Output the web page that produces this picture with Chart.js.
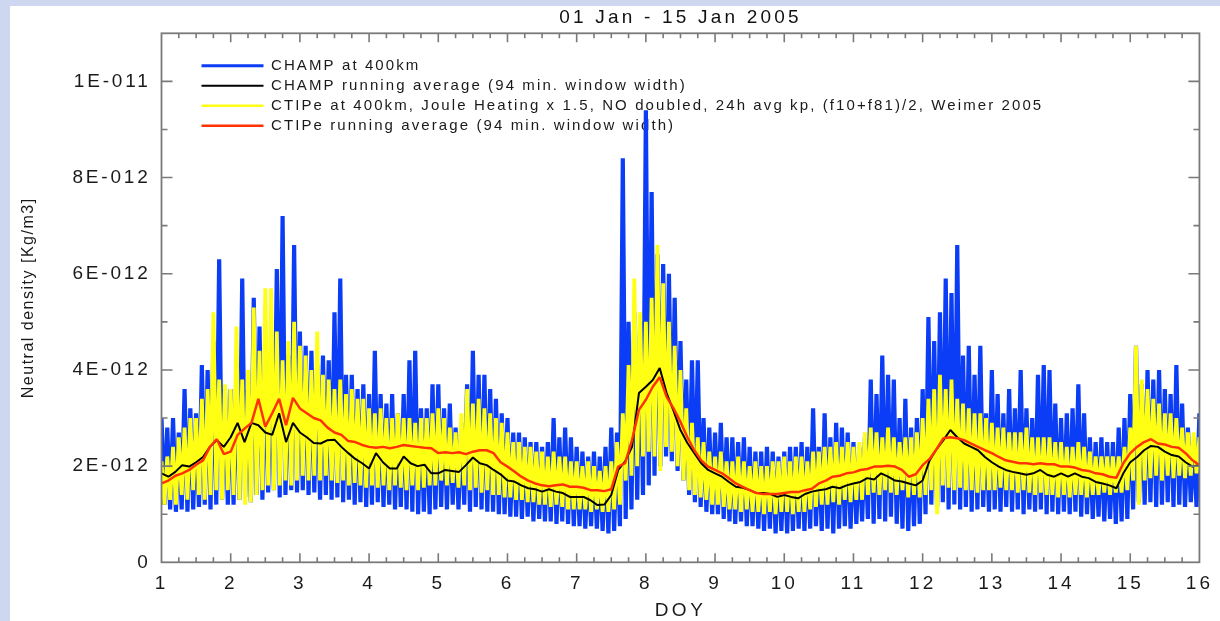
<!DOCTYPE html>
<html><head><meta charset="utf-8">
<script src="https://cdn.jsdelivr.net/npm/chart.js@4.4.1/dist/chart.umd.min.js"></script>
<style>
html,body{margin:0;padding:0;width:1220px;height:621px;overflow:hidden;background:#cdd8f0;}
#wrap{position:absolute;left:10px;top:6px;width:1210px;height:615px;background:#fff;}
canvas{display:block;}
</style></head><body>
<div id="wrap"><canvas id="c" width="1210" height="615"></canvas></div>
<script>
// ---------- data (density values in units of 1E-013 kg/m3) ----------
const UNIT = 1e-13;
const DAY_START = 1;
const DAY_END = 16;
const RAW_PER_DAY = 12;      // envelope samples per day (every 2 h)
const AVG_STEP = 0.1;        // running-average samples (days)

const xTickLabels = ['1','2','3','4','5','6','7','8','9','10','11','12','13','14','15','16'];
const yTickLabels = ['0','2E-012','4E-012','6E-012','8E-012','1E-011'];

const seriesNames = [
  'CHAMP at 400km',
  'CHAMP running average (94 min. window width)',
  'CTIPe at 400km, Joule Heating x 1.5, NO doubled, 24h avg kp, (f10+f81)/2, Weimer 2005',
  'CTIPe running average (94 min. window width)'
];

// CHAMP at 400 km: orbit maxima / minima
const champHi = [
 30,28,30,27,36,32,31,41,40,46,63,36,
 36,40,59,36,55,49,44,43,61,72,43,66,
 48,45,44,41,43,42,52,59,39,39,36,37,
 35,44,35,33,35,31,35,42,44,32,32,37,
 37,32,33,28,29,37,44,39,39,36,34,31,
 30,27,27,26,25,25,24,25,30,26,28,26,
 24,23,22,23,22,24,28,27,84,50,52,50,
 94,77,64,62,60,55,46,38,42,42,30,28,
 27,29,26,26,25,26,24,23,23,24,23,22,
 23,24,24,25,24,32,24,31,26,29,28,27,
 25,24,26,38,35,43,39,38,30,34,28,30,
 36,51,46,52,59,56,66,43,45,39,45,31,
 40,35,31,36,32,40,32,30,39,41,40,33,
 30,31,32,37,31,26,25,26,25,25,28,30,
 35,45,37,40,38,40,36,35,41,33,28,25,
 31];
const champLo = [
 12,11,10.5,11,10.5,11,11.5,12,11,12,13,12,
 12,13,13.5,12.5,14,13,14.5,15,13.5,14,15,14.5,
 15,14,14.5,13,14,13,13.5,12.5,13,12,12.5,11.5,
 12,12.5,11.5,12,11,11.5,11,10.5,10,10.5,10,11,
 11.5,11,12,11,12,10.5,11.5,11,10.5,10.5,10,10,
 9.5,9.5,9,9.5,8.5,9,8.5,8.5,8,8.5,8,7.5,
 7.5,7,7.5,7,6.5,6,6.5,7.5,9,11,13,14,
 16,18,20,22,21,19,17,14,12.5,11.5,10.5,10,
 10,9,8.5,8,8.5,7.5,7.5,7,6.5,7,6,6.5,
 6,6.5,7,6.5,7,7.5,6.5,7,6,7,7.5,7,
 8,8.5,9,8,9,8.5,9.5,8,7,6.5,7.5,8,
 10,12,11.5,12.5,11,12,11,11.5,10.5,11,11.5,10.5,
 11,10.5,11.5,10.5,11,10,11,10.5,11,10,10.5,10,
 10.5,10,10.5,9.5,10,9,9.5,8.5,9,8,8.5,9,
 11,12.5,12,12.5,11.5,12,12.5,11.5,12,11.5,12.5,11.5,
 12];

// CTIPe at 400 km: orbit maxima / minima
const ctipeHi = [
 21,22,24,26,28,30,30,34,36,52,38,37,
 36,49,38,40,53,44,57,57,48,42,46,50,
 45,43,40,48,39,38,36,38,35,36,34,34,
 32,31,32,30,30,31,30,30,29,30,30,31,
 32,30,28,27,31,36,33,34,32,31,30,29,
 27,25,25,24,24,23,23,22,23,22,22,21,
 21,20,21,20,19,20,21,25,31,41,59,52,
 50,55,66,58,50,45,40,32,29,26,25,23,
 22,23,21,21,22,21,20,21,20,20,21,21,
 22,21,22,22,21,23,23,24,24,25,24,25,
 24,25,27,28,27,26,28,26,25,26,26,27,
 30,34,36,39,36,38,34,33,32,31,31,30,
 29,28,28,27,27,27,28,26,26,26,26,25,
 25,24,24,25,24,23,22,22,22,22,22,24,
 28,45,38,36,34,33,31,31,30,28,27,27,
 26];
const ctipeLo = [
 12,13,12,14,13,15,14,13,14,15,13,15,
 14,13,12,12.5,14,15,16,15,16,17,16,17,
 18,17,18,17,18,17,16.5,17,16,16.5,16,15.5,
 16,15.5,16,15,16,15.5,15,16,15,15.5,16,16,
 17,16,16.5,15.5,16,15,15.5,14.5,15,14,14,13.5,
 13.5,13,13,12.5,12.5,12,12,11.5,12,11.5,11,11,
 11,11,10.5,11,10.5,10.5,11,12,17,18,20,22,
 23,22,19,24,23,20,17,15,14,13.5,13,12,
 12,11.5,11,11,10.5,11,10.5,10.5,10,10.5,10,10.5,
 10.5,10,10.5,10.5,11,11.5,12,12,12.5,12,13,12.5,
 13,13,14,14.5,14,15,14.5,14,15,13.5,14,13.5,
 14,15,10,16,15.5,15,15.5,15,15,14.5,15,15,
 15,15.5,15,15,14.5,15,14.5,14,14.5,14,14,13.5,
 14,13.5,14,14,13.5,14,14,14.5,14,14.5,14.5,15,
 17,12,17,17.5,18,17,18,17.5,18,17.5,18,18.5,
 18];

// running averages, every 0.1 day from DOY 1.0 to 16.0
const champAvg = [
 18.5,17.8,18.8,20.2,19.9,20.8,21.9,24,25.4,24,
 26,29,25,29,28.5,27,26.5,31,25,29,
 27,26,24.8,24.7,25.4,25.5,24,22.7,21.5,20.6,
 19.5,22.7,20.8,19.5,19.5,22,20.6,20,20.3,18.5,
 18.5,19.2,19,18.8,20.2,21.8,20.6,20.2,19.2,18.3,
 17,16.8,16,15.4,15.2,14.7,15.2,14.7,14.4,13.6,
 13.6,13.6,12.9,11.9,12,14,19.2,21,24,35.2,
 36.5,37.9,40.4,35.2,31.5,27.5,24.8,22.7,20.6,19.2,
 18.5,17.8,16.7,15.7,15.5,15,14.4,14.4,14.2,13.6,
 14,13.6,13.3,14.2,14.7,15,15.2,15.7,15.4,16,
 16.4,16.7,17.5,17.2,18.5,17.8,17,16.8,16.4,16,
 17,21.2,23.5,25.4,27.5,26,24.7,24,23.3,21.9,
 20.8,19.9,19.2,18.8,18.5,18.2,18.5,19.2,18.2,17.8,
 18.5,17.8,18.5,17.8,17.5,16.7,16.4,16,15.4,18.5,
 20.8,21.9,23.3,24.2,24,23,22.3,22,20.8,19.9,
 20.3];
const ctipeAvg = [
 16.4,17,18,18.5,19.2,20.3,21.2,24,25.6,22.5,
 23,26.5,27.8,29,34,28.2,31,34,28.5,34.2,
 32,31,30,29.5,28,27,26.5,25.2,25,24.4,
 24,23.8,24,23.7,24,24.4,24.2,24,23.8,23.7,
 22.7,22.9,22.7,22.9,22.5,23,23.3,23.3,22.7,20.8,
 19.9,18.9,17.8,17,16.4,16,15.8,16,16.2,15.7,
 15.7,15.5,15,15,14.8,15.2,19.9,20.6,25.4,31.7,
 33.8,36.5,38.5,34.4,32,29.2,26,23.3,21.2,19.9,
 19.2,18.5,17.5,16.4,15.7,15,14.4,14.2,14.2,14.2,
 14.4,14.6,14.6,15,15.3,16.4,17,17.8,18,18.5,
 18.7,19.2,19.4,19.9,19.9,20.1,19.9,19.2,17.8,18.3,
 20.2,21.5,23.5,25.8,26,25.8,25.4,24.7,24,23.3,
 22.7,21.9,21.2,20.9,20.6,20.6,20.4,20.6,20.4,20.4,
 19.9,19.9,19.7,19.2,19,18.5,18.3,17.8,17.6,20.6,
 22.7,24,25,25.6,24.7,24.5,24,23.8,22.7,21.2,
 20.2];

// ---------- build library data ----------
function rawPoints(hi, lo) {
  const pts = [];
  for (let i = 0; i < hi.length; i++) {
    const d = DAY_START + i / RAW_PER_DAY;
    pts.push({x: d, y: hi[i] * UNIT});
    pts.push({x: d + 0.5 / RAW_PER_DAY, y: lo[i] * UNIT});
  }
  return pts;
}
function avgPoints(arr) {
  return arr.map((v, j) => ({x: DAY_START + j * AVG_STEP, y: v * UNIT}));
}

const BLUE = '#0b3cf6', YELLOW = '#ffff14', BLACK = '#000000', RED = '#ff3300';
const LEGEND_LINE = [3, 2, 2.5, 2.5];
const FONT = '"Liberation Sans", Arial, Helvetica, sans-serif';
Chart.defaults.font.family = FONT;
Chart.defaults.color = '#1a1a1a';

function wrapSpacing(obj, fn, sp) {
  if (!obj || !obj[fn]) return;
  const orig = obj[fn];
  obj[fn] = function (...a) {
    const c = this.ctx;
    const prev = c.letterSpacing;
    c.letterSpacing = sp;
    const r = orig.apply(this, a);
    c.letterSpacing = prev || '0px';
    return r;
  };
}
const spacingPlugin = {
  id: 'spacing',
  beforeDraw(chart) {
    if (chart.$spaced) return;
    chart.$spaced = true;
    wrapSpacing(chart.scales.x, 'drawLabels', '3px');
    wrapSpacing(chart.scales.x, 'drawTitle', '3.5px');
    wrapSpacing(chart.scales.y, 'drawLabels', '2.8px');
    wrapSpacing(chart.scales.y, 'drawTitle', '1.5px');
    wrapSpacing(chart.legend, 'draw', '2.1px');
    wrapSpacing(chart.titleBlock, 'draw', '3.2px');
  }
};
const boxShift = {
  id: 'boxShift',
  afterLayout(chart) {
    const a = chart.chartArea;
    const lg = chart.legend;
    if (lg) { lg.left = a.left + 35; lg.top = a.top + 20; }
    const tb = chart.titleBlock;
    if (tb) { tb.left = a.left; tb.right = a.right; tb.width = a.right - a.left; }
  }
};
const X_MINOR = 0.25, Y_MINOR = 1e-12, Y_TOP = 1.1e-11;
const framePlugin = {
  id: 'frame',
  afterDatasetsDraw(chart) {
    const {ctx, chartArea: a, scales: {x, y}} = chart;
    ctx.save();
    ctx.strokeStyle = '#7a7a7a';
    ctx.lineWidth = 1.6;
    ctx.beginPath();
    const nx = Math.round((DAY_END - DAY_START) / X_MINOR);
    for (let k = 1; k < nx; k++) {
      const v = DAY_START + k * X_MINOR;
      const px = x.getPixelForValue(v);
      const L = (k % 4 === 0) ? 9 : 5;
      ctx.moveTo(px, a.bottom); ctx.lineTo(px, a.bottom - L);
      ctx.moveTo(px, a.top); ctx.lineTo(px, a.top + L);
    }
    const ny = Math.round(Y_TOP / Y_MINOR);
    for (let k = 1; k < ny; k++) {
      const py = y.getPixelForValue(k * Y_MINOR);
      const L = (k % 2 === 0) ? 11 : 6;
      ctx.moveTo(a.left, py); ctx.lineTo(a.left + L, py);
      ctx.moveTo(a.right, py); ctx.lineTo(a.right - L, py);
    }
    ctx.stroke();
    ctx.lineWidth = 1.8;
    ctx.strokeRect(a.left, a.top, a.right - a.left, a.bottom - a.top);
    ctx.restore();
  }
};

new Chart(document.getElementById('c'), {
  type: 'line',
  data: {
    datasets: [
      {label: seriesNames[0], data: rawPoints(champHi, champLo), borderColor: BLUE, backgroundColor: BLUE, borderWidth: 4.2, order: 4},
      {label: seriesNames[1], data: avgPoints(champAvg), borderColor: BLACK, backgroundColor: BLACK, borderWidth: 2, order: 2},
      {label: seriesNames[2], data: rawPoints(ctipeHi, ctipeLo), borderColor: YELLOW, backgroundColor: YELLOW, borderWidth: 3.8, order: 3},
      {label: seriesNames[3], data: avgPoints(ctipeAvg), borderColor: RED, backgroundColor: RED, borderWidth: 2.5, order: 1}
    ]
  },
  options: {
    responsive: false,
    animation: false,
    devicePixelRatio: 1,
    events: [],
    layout: {padding: {left: 0, right: 10.5, top: 0, bottom: 0}},
    elements: {
      point: {radius: 0},
      line: {tension: 0, borderJoinStyle: 'bevel', fill: false}
    },
    scales: {
      x: {
        type: 'linear', min: DAY_START, max: DAY_END,
        afterFit: s => { s.height = 58.7; },
        grid: {display: false, drawTicks: false},
        border: {display: false},
        ticks: {stepSize: 1, padding: 10, maxRotation: 0, autoSkip: false, color: '#1a1a1a',
                font: {size: 19}, callback: v => xTickLabels[Math.round(v) - DAY_START] ?? ''},
        title: {display: true, text: 'DOY', color: '#1a1a1a', font: {size: 19, lineHeight: 1}, padding: {top: 0, bottom: 0.5}}
      },
      y: {
        type: 'linear', min: 0, max: Y_TOP,
        afterFit: s => { s.width = 151.5; },
        grid: {display: false, drawTicks: false},
        border: {display: false},
        ticks: {stepSize: 2e-12, includeBounds: false, padding: 11, color: '#1a1a1a', font: {size: 19},
                callback: v => { const n = Math.round(v / 2e-12); return (Math.abs(v - n * 2e-12) < 1e-15) ? (yTickLabels[n] ?? '') : ''; }},
        title: {display: true, text: 'Neutral density [Kg/m3]', color: '#1a1a1a', font: {size: 16, lineHeight: 1}, padding: {top: 10.5, bottom: 0}}
      }
    },
    plugins: {
      title: {display: true, text: '01 Jan - 15 Jan 2005', color: '#111', font: {size: 19, weight: 'normal'}, padding: {top: 0.5, bottom: 4}},
      legend: {
        position: 'chartArea', align: 'start',
        labels: {usePointStyle: true, pointStyle: 'line', pointStyleWidth: 62, boxHeight: 15,
                 padding: 5, color: '#1a1a1a', font: {size: 15},
                 generateLabels: (chart) => Chart.defaults.plugins.legend.labels.generateLabels(chart)
                   .map(l => Object.assign(l, {lineWidth: LEGEND_LINE[l.datasetIndex]})),
                 sort: (a, b) => a.datasetIndex - b.datasetIndex}
      },
      tooltip: {enabled: false}
    }
  },
  plugins: [spacingPlugin, boxShift, framePlugin]
});
</script>
</body></html>
